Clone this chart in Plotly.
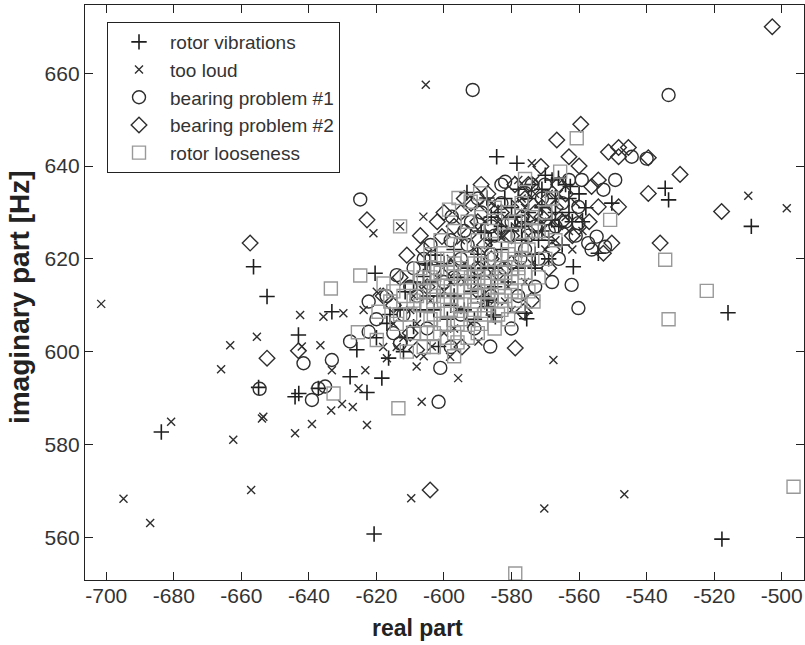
import plotly.graph_objects as go

# ---- data: eigenvalue positions (real part, imaginary part [Hz]) per fault class ----
vib_re = [-683.7, -620.7, -517.7, -509.0, -515.9, -584.4, -578.4, -534.5, -533.5, -656.4,
          -652.4, -643.1, -643.0, -654.9, -593.2, -620.4, -633.2, -627.8, -618.4, -622.8,
          -616.9, -606.1, -604.1, -609.0, -601.6, -625.8, -616.4, -585.4, -576.0, -587.3,
          -562.6, -550.3, -561.7, -554.3, -587.3, -605.6, -602.6, -566.1, -568.1, -586.8,
          -611.5, -584.8, -575.5, -588.3, -644.1, -588.0, -637.2,
          -596, -592, -588, -583, -580, -576, -572, -569, -566, -563, -578, -585, -590,
          -594, -599, -602, -607, -611, -580, -571, -574, -568, -562, -558,
          -604, -600, -597, -593, -589, -586, -582, -578, -575, -571, -567, -564, -560,
          -573, -581, -585, -591, -597, -603, -609, -613, -583, -577, -570, -565,
          -584, -579, -575, -571, -567, -563, -559, -577, -573, -569, -586, -591, -598,
          -605, -616, -620, -612]
vib_im = [582.7, 560.7, 559.6, 627.0, 608.4, 642.0, 640.6, 635.2, 632.7, 618.3,
          611.9, 603.6, 591.0, 592.3, 634.3, 616.9, 608.6, 594.6, 594.3, 591.2,
          606.1, 616.2, 618.7, 605.4, 601.1, 600.4, 598.6, 607.9, 608.3, 609.7,
          635.6, 632.0, 618.3, 621.2, 633.1, 619.0, 620.8, 637.4, 628.4, 611.1,
          612.9, 607.5, 607.1, 611.9, 590.3, 625.6, 592.1,
          616, 613, 618, 622, 626, 628, 624, 620, 627, 633, 618, 614, 621,
          609, 607, 612, 609, 603, 631, 631, 636, 637, 628, 631,
          615, 619, 622, 618, 626, 629, 633, 635, 630, 626, 630, 636, 634,
          618, 615, 618, 607, 612, 609, 615, 609, 627, 624, 638, 623,
          630, 629, 633, 635, 633, 630, 628, 627, 621, 624, 624, 616, 610,
          612, 608, 603, 600]

loud_re = [-701.5, -694.9, -687.0, -680.8, -662.4, -657.1, -653.9, -653.5, -644.1, -639.1,
           -633.4, -630.2, -627.0, -622.8, -609.7, -570.3, -546.6, -605.4, -509.9, -498.5,
           -663.3, -655.4, -666.0, -642.6, -635.7, -642.1, -636.6, -606.1, -620.9, -613.0,
           -629.8, -619.9, -608.1, -595.8, -598.2, -603.6, -589.8, -623.3, -616.9, -623.8,
           -606.6, -567.6, -581.9, -633.2, -625.3, -574.0,
           -594, -590, -586, -582, -578, -575, -571, -567, -564, -600, -604, -608, -612,
           -597, -589, -580, -576, -584, -579, -573, -566, -562, -559,
           -602, -598, -595, -591, -587, -583, -579, -576, -572, -569, -565, -561,
           -585, -581, -592, -596, -606, -610, -588, -578, -570, -574, -614, -600,
           -582, -577, -573, -568, -563, -560, -586, -591, -594, -598, -609, -615, -618,
           -606]
loud_im = [610.3, 568.3, 563.1, 584.9, 581.0, 570.2, 585.6, 586.0, 582.4, 584.4,
           587.3, 588.7, 588.1, 584.2, 568.4, 566.2, 569.3, 657.5, 633.6, 630.9,
           601.4, 603.2, 596.2, 607.9, 607.5, 601.1, 601.4, 629.1, 625.5, 627.0,
           608.3, 612.9, 596.8, 594.3, 598.9, 601.1, 602.2, 596.0, 598.6, 609.0,
           589.2, 598.2, 610.8, 596.0, 592.1, 640.6,
           615, 619, 617, 619, 621, 625, 628, 624, 629, 613, 611, 606, 603,
           605, 610, 609, 615, 628, 632, 634, 634, 622, 626,
           616, 620, 624, 622, 623, 625, 627, 631, 632, 634, 637, 632,
           611, 614, 606, 609, 614, 609, 628, 637, 622, 619, 601, 604,
           629, 633, 637, 628, 626, 629, 632, 627, 619, 615, 612, 606, 601,
           599]

bear1_re = [-591.5, -533.5, -624.8, -614.0, -641.6, -633.2, -622.3, -586.3, -601.1, -635.2,
            -654.6, -601.6, -622.3, -613.0, -627.8, -544.4, -549.3, -552.8, -559.2, -554.8,
            -557.3, -560.2, -560.2, -552.3, -540.0, -556.3, -562.2, -560.2, -581.9, -597.7,
            -576.0, -570.1, -577.4, -637.2, -639.1,
            -600, -595, -590, -585, -580, -575, -570, -565, -608, -612, -605, -595, -588,
            -578, -572, -568, -592, -598,
            -603, -597, -593, -589, -583, -577, -573, -567, -563, -571, -586, -582, -606,
            -610, -615, -598, -591, -573, -566, -586,
            -581, -576, -569, -564, -561, -574, -583, -590, -594, -604, -609, -617, -620,
            -586, -580]
bear1_im = [656.4, 655.3, 632.8, 616.5, 597.5, 598.2, 610.8, 601.1, 596.5, 592.5,
            592.0, 589.2, 604.3, 601.8, 602.2, 642.0, 637.0, 634.9, 637.0, 624.8,
            623.4, 631.2, 627.7, 622.6, 641.6, 622.0, 614.4, 609.4, 636.6, 629.1,
            634.2, 636.0, 620.1, 592.1, 589.6,
            615, 620, 618, 625, 628, 625, 630, 632, 612, 608, 605, 608, 615,
            612, 620, 615, 628, 624,
            618, 616, 623, 630, 632, 628, 627, 627, 637, 633, 621, 618, 620,
            614, 604, 601, 605, 614, 620, 627,
            625, 622, 626, 628, 625, 636, 636, 633, 626, 623, 618, 612, 607,
            612, 605]

bear2_re = [-502.8, -559.5, -566.6, -551.3, -548.3, -545.4, -548.3, -539.5, -530.1, -571.3,
            -539.5, -517.8, -536.0, -554.3, -556.3, -554.3, -548.3, -550.3, -552.8, -622.8,
            -611.0, -600.6, -587.3, -592.8, -574.0, -576.5, -657.4, -652.4, -643.1, -608.1,
            -594.7, -578.9, -604.1,
            -595, -590, -583, -576, -580, -586, -565, -568, -562, -598, -605, -615, -610,
            -602, -597, -592, -587, -579, -573, -569, -566, -572, -580, -588, -584, -606,
            -613, -560, -563, -557, -569,
            -583, -577, -571, -567, -564, -575, -589, -594, -600, -607, -618, -590]
bear2_im = [670.0, 649.0, 645.6, 643.0, 644.0, 644.0, 642.0, 641.8, 638.2, 639.9,
            634.1, 630.2, 623.4, 637.0, 635.6, 631.2, 631.2, 623.4, 621.2, 628.4,
            620.8, 624.8, 631.6, 625.2, 611.1, 608.6, 623.4, 598.6, 600.2, 600.4,
            601.0, 600.8, 570.2,
            630, 628, 630, 633, 625, 620, 628, 622, 625, 618, 614, 610, 604,
            628, 627, 632, 634, 636, 630, 633, 636, 627, 619, 623, 617, 622,
            616, 640, 642, 628, 618,
            626, 629, 629, 631, 634, 636, 636, 633, 630, 625, 612, 613]

loose_re = [-578.9, -496.5, -534.5, -522.2, -533.5, -560.7, -550.8, -565.6, -576.0, -589.3,
            -595.7, -613.0, -592.1, -598.5, -633.5, -624.8, -617.9, -573.5, -625.5, -619.9,
            -619.4, -615.9, -613.5, -632.7,
            -608, -605, -603, -600, -598, -596, -594, -592, -590, -588, -586, -584, -582,
            -580, -578, -576, -601, -597, -593, -589, -585, -581, -577, -604, -600, -596,
            -592, -588, -584, -606, -602, -595, -590, -586, -582, -579, -610, -612, -598,
            -594, -591, -587, -583, -599, -603, -609, -614, -606, -596, -590, -572, -570,
            -574, -568,
            -607, -604, -601, -597, -593, -589, -585, -581, -577, -574, -579, -583, -587,
            -591, -595, -599, -603, -607, -611, -615, -611, -603, -597, -593, -589, -585,
            -581, -578, -575, -572, -570, -567,
            -606, -604, -602, -600, -598, -596, -594, -592, -590, -588, -586, -584, -582,
            -580, -578, -576, -599, -595, -591, -587, -583, -579, -575, -603, -599, -595,
            -591, -587, -583, -579, -605, -601, -597, -609, -613]
loose_im = [552.2, 570.9, 619.8, 613.1, 607.0, 646.0, 628.4, 638.8, 637.2, 634.1,
            633.1, 627.0, 632.3, 630.6, 613.6, 616.4, 614.7, 610.8, 604.2, 602.5,
            608.6, 610.8, 587.8, 591.0,
            612, 610, 614, 611, 614, 610, 613, 616, 612, 615, 611, 614, 617,
            613, 616, 620, 617, 619, 620, 619, 620, 621, 623, 607, 606, 606,
            608, 608, 608, 616, 620, 623, 624, 626, 625, 628, 608, 612, 609,
            617, 610, 613, 611, 603, 604, 604, 606, 601, 602, 604, 626, 630,
            629, 633,
            618, 621, 624, 626, 628, 629, 631, 630, 632, 626, 620, 618, 617,
            615, 616, 617, 612, 610, 616, 613, 600, 601, 599, 603, 606, 605,
            607, 610, 613, 616, 620, 624,
            613, 616, 618, 613, 611, 613, 611, 614, 616, 613, 615, 616, 612,
            615, 618, 617, 620, 618, 619, 621, 620, 622, 622, 608, 609, 607,
            609, 610, 609, 611, 604, 606, 604, 611, 608]

x_ticks = list(range(-700, -499, 20))
x_tick_text = [f"-{abs(v)}" for v in x_ticks]
y_ticks = list(range(560, 661, 20))

series = [
    ("rotor vibrations", vib_re, vib_im, "cross-thin-open", 11, "#1e1e1e", 1.6),
    ("too loud", loud_re, loud_im, "x-thin-open", 8, "#2e2e2e", 1.4),
    ("bearing problem #1", bear1_re, bear1_im, "circle-open", 13, "#2e2e2e", 1.4),
    ("bearing problem #2", bear2_re, bear2_im, "diamond-open", 12, "#2e2e2e", 1.4),
    ("rotor looseness", loose_re, loose_im, "square-open", 13, "#999999", 1.4),
]

font_family = "Liberation Sans, Arial, Helvetica, sans-serif"

fig = go.Figure()
for name, xs, ys, sym, size, color, lw in series:
    fig.add_trace(go.Scatter(
        x=xs, y=ys, mode="markers", name=name,
        cliponaxis=False,
        marker=dict(symbol=sym, size=size, color=color,
                    line=dict(color=color, width=lw)),
    ))

axis_common = dict(
    showline=True, linecolor="#222", linewidth=1.3, mirror="ticks",
    ticks="inside", ticklen=8, tickwidth=1.3, tickcolor="#222",
    showgrid=False, zeroline=False,
    tickfont=dict(family=font_family, size=21, color="#333"),
)

fig.update_xaxes(range=[-706.3, -493.4], tickvals=x_ticks, ticktext=x_tick_text,
                 ticklabelstandoff=-3, **axis_common)
fig.update_yaxes(range=[550.8, 674.7], tickvals=y_ticks, **axis_common)

fig.update_layout(
    width=805, height=645,
    margin=dict(l=85, r=1, t=5, b=65),
    paper_bgcolor="white", plot_bgcolor="white",
    showlegend=True,
    legend=dict(
        x=0.0306, y=0.9704, xanchor="left", yanchor="top",
        bgcolor="white", bordercolor="#222", borderwidth=1,
        font=dict(family=font_family, size=19, color="#333"),
        itemwidth=52, tracegroupgap=0,
        entrywidth=210, entrywidthmode="pixels",
    ),
    annotations=[
        dict(text="<b>real part</b>", x=0.4618, y=-0.0835, xref="paper", yref="paper",
             xanchor="center", yanchor="middle", showarrow=False,
             font=dict(family=font_family, size=23, color="#222")),
        dict(text="<b>imaginary part [Hz]</b>", x=-0.0918, y=0.492, xref="paper",
             yref="paper", xanchor="center", yanchor="middle", showarrow=False,
             textangle=-90, font=dict(family=font_family, size=28, color="#222")),
    ],
)

fig.write_html("out.html")
